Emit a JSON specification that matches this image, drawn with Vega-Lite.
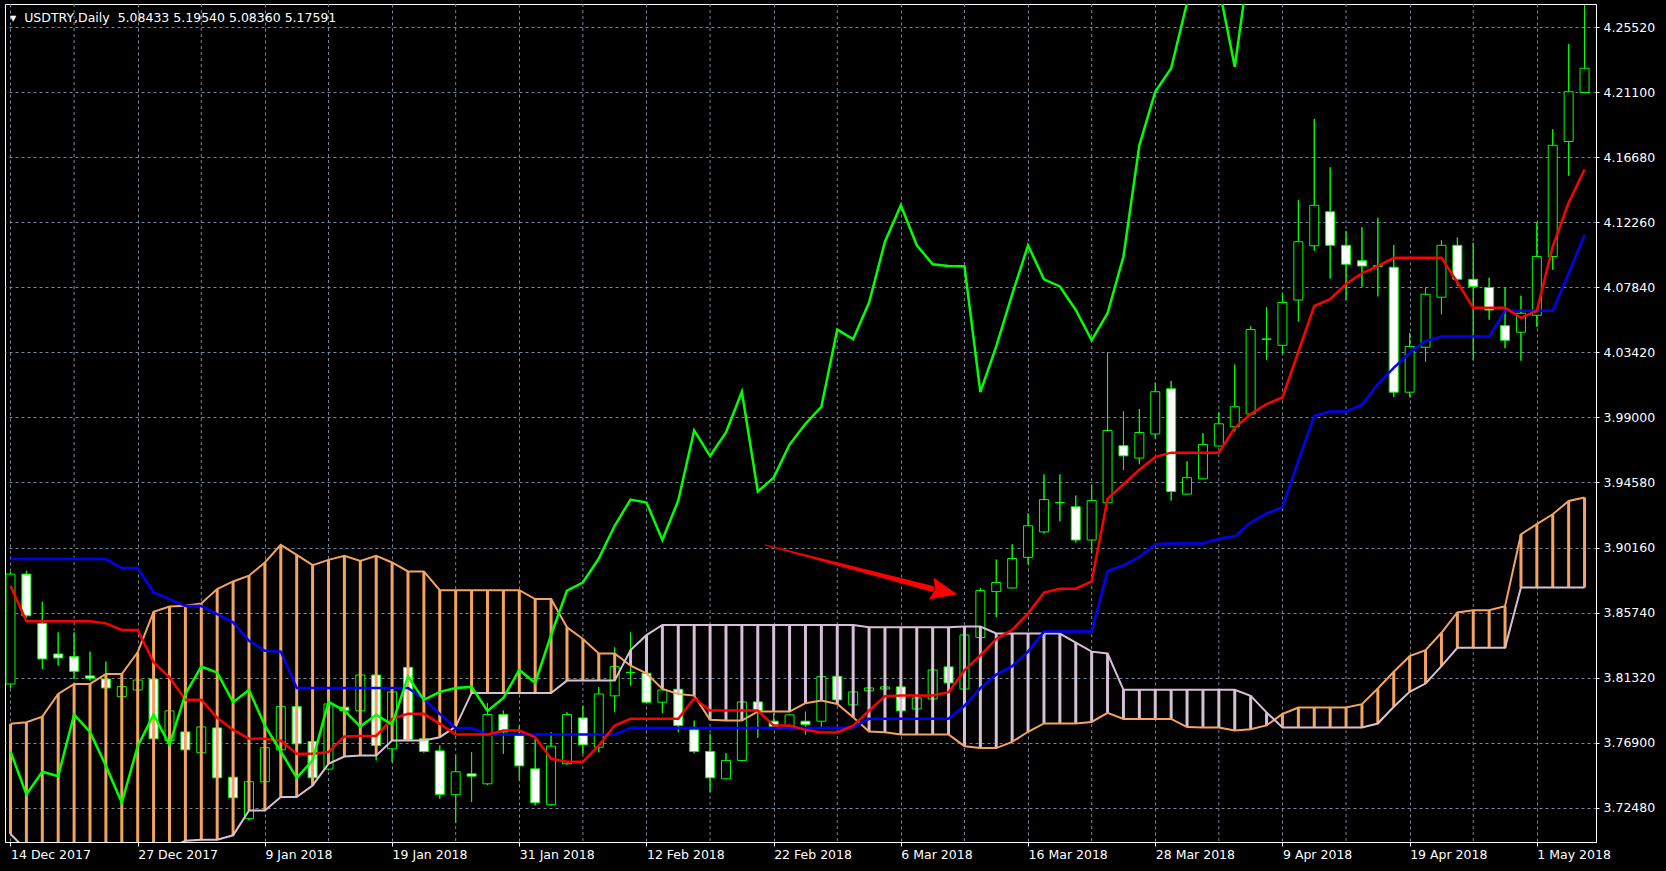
{
"$schema":"https://vega.github.io/schema/vega-lite/v6.json",
"width":1591,"height":838,
"autosize":{"type":"none"},
"padding":{"left":5,"top":4,"right":70,"bottom":29},
"background":"#000000",
"config":{"view":{"stroke":"#ffffff","strokeWidth":1,"fill":"#000000"},"font":"DejaVu Sans"},
"title":{"text":"▾\u00a0 USDTRY,Daily\u00a0 5.08433 5.19540 5.08360 5.17591","anchor":"start","frame":"group","orient":"top","offset":-16,"dy":15,"dx":5,"color":"#ffffff","font":"DejaVu Sans","fontSize":12.5,"fontWeight":"normal","baseline":"alphabetic"},
"datasets":{
"vgrid":[{"g":4},{"g":12},{"g":20},{"g":28},{"g":36},{"g":44},{"g":52},{"g":60},{"g":68},{"g":76},{"g":84},{"g":92}],
"bars":[
{"i":0,"o":3.8088,"h":3.885,"l":3.806,"c":3.8835,"t":3.8756,"k":3.8937,"ch":3.7629,"a":3.7817,"b":3.7068},
{"i":1,"o":3.8835,"h":3.8858,"l":3.854,"c":3.8552,"t":3.8514,"k":3.8937,"ch":3.7337,"a":3.7828,"b":3.6958},
{"i":2,"o":3.85,"h":3.8647,"l":3.819,"c":3.8258,"t":3.8514,"k":3.8937,"ch":3.7491,"a":3.7866,"b":3.69},
{"i":3,"o":3.8292,"h":3.8439,"l":3.8213,"c":3.8265,"t":3.8514,"k":3.8937,"ch":3.7461,"a":3.802,"b":3.69},
{"i":4,"o":3.8274,"h":3.8439,"l":3.8122,"c":3.8174,"t":3.8514,"k":3.8937,"ch":3.788,"a":3.8088,"b":3.69},
{"i":5,"o":3.8143,"h":3.8308,"l":3.8111,"c":3.8127,"t":3.8514,"k":3.8937,"ch":3.7762,"a":3.8088,"b":3.69},
{"i":6,"o":3.8122,"h":3.824,"l":3.8055,"c":3.8061,"t":3.85,"k":3.8937,"ch":3.7531,"a":3.8156,"b":3.69},
{"i":7,"o":3.8002,"h":3.8075,"l":3.799,"c":3.807,"t":3.8455,"k":3.8876,"ch":3.728,"a":3.8156,"b":3.69},
{"i":8,"o":3.8047,"h":3.8125,"l":3.804,"c":3.8115,"t":3.8455,"k":3.8876,"ch":3.7665,"a":3.8303,"b":3.69},
{"i":9,"o":3.8122,"h":3.813,"l":3.7705,"c":3.7715,"t":3.8235,"k":3.871,"ch":3.788,"a":3.8579,"b":3.69},
{"i":10,"o":3.7703,"h":3.792,"l":3.769,"c":3.7905,"t":3.8133,"k":3.8665,"ch":3.7674,"a":3.8615,"b":3.697},
{"i":11,"o":3.7762,"h":3.778,"l":3.763,"c":3.764,"t":3.798,"k":3.8618,"ch":3.802,"a":3.862,"b":3.7022},
{"i":12,"o":3.762,"h":3.781,"l":3.761,"c":3.7796,"t":3.798,"k":3.8618,"ch":3.8206,"a":3.8636,"b":3.7029},
{"i":13,"o":3.7789,"h":3.78,"l":3.744,"c":3.745,"t":3.7857,"k":3.8563,"ch":3.8165,"a":3.8733,"b":3.7029},
{"i":14,"o":3.7454,"h":3.746,"l":3.73,"c":3.7314,"t":3.7776,"k":3.8507,"ch":3.7964,"a":3.8785,"b":3.7059},
{"i":15,"o":3.7172,"h":3.743,"l":3.716,"c":3.7423,"t":3.7717,"k":3.8382,"ch":3.8047,"a":3.8824,"b":3.7228},
{"i":16,"o":3.7423,"h":3.767,"l":3.741,"c":3.7654,"t":3.7715,"k":3.8314,"ch":3.7805,"a":3.8914,"b":3.7228},
{"i":17,"o":3.764,"h":3.7945,"l":3.763,"c":3.7934,"t":3.7703,"k":3.8308,"ch":3.7629,"a":3.9034,"b":3.7319},
{"i":18,"o":3.7934,"h":3.7945,"l":3.767,"c":3.7681,"t":3.7613,"k":3.8061,"ch":3.745,"a":3.8966,"b":3.7319},
{"i":19,"o":3.7697,"h":3.7705,"l":3.744,"c":3.745,"t":3.7613,"k":3.8061,"ch":3.7568,"a":3.8896,"b":3.7398},
{"i":20,"o":3.7509,"h":3.796,"l":3.75,"c":3.7952,"t":3.7625,"k":3.8061,"ch":3.7966,"a":3.8932,"b":3.7545},
{"i":21,"o":3.793,"h":3.794,"l":3.79,"c":3.7907,"t":3.7731,"k":3.8061,"ch":3.7907,"a":3.8959,"b":3.7595},
{"i":22,"o":3.7905,"h":3.8155,"l":3.79,"c":3.8149,"t":3.7735,"k":3.8061,"ch":3.7798,"a":3.8925,"b":3.7602},
{"i":23,"o":3.8149,"h":3.8155,"l":3.7568,"c":3.767,"t":3.7735,"k":3.8061,"ch":3.7878,"a":3.8959,"b":3.7602},
{"i":24,"o":3.7647,"h":3.804,"l":3.7556,"c":3.8034,"t":3.7851,"k":3.8061,"ch":3.7812,"a":3.8914,"b":3.7703},
{"i":25,"o":3.8201,"h":3.821,"l":3.77,"c":3.7708,"t":3.7885,"k":3.8061,"ch":3.8138,"a":3.8853,"b":3.7703},
{"i":26,"o":3.7715,"h":3.772,"l":3.762,"c":3.7629,"t":3.7885,"k":3.7986,"ch":3.798,"a":3.8853,"b":3.7703},
{"i":27,"o":3.7633,"h":3.7669,"l":3.7308,"c":3.7337,"t":3.7817,"k":3.7885,"ch":3.8034,"a":3.8726,"b":3.7726},
{"i":28,"o":3.7335,"h":3.7602,"l":3.7142,"c":3.7491,"t":3.7744,"k":3.7789,"ch":3.8061,"a":3.8726,"b":3.7798},
{"i":29,"o":3.7477,"h":3.7624,"l":3.7285,"c":3.7461,"t":3.7744,"k":3.7789,"ch":3.8068,"a":3.8726,"b":3.8027},
{"i":30,"o":3.7409,"h":3.7959,"l":3.74,"c":3.788,"t":3.7744,"k":3.7744,"ch":3.7905,"a":3.8726,"b":3.8027},
{"i":31,"o":3.788,"h":3.7907,"l":3.7613,"c":3.7762,"t":3.7771,"k":3.7744,"ch":3.7993,"a":3.8726,"b":3.8027},
{"i":32,"o":3.7737,"h":3.7805,"l":3.7432,"c":3.7531,"t":3.7771,"k":3.7744,"ch":3.8183,"a":3.8726,"b":3.8027},
{"i":33,"o":3.7511,"h":3.7715,"l":3.7262,"c":3.728,"t":3.7726,"k":3.7744,"ch":3.8095,"a":3.8665,"b":3.8027},
{"i":34,"o":3.7267,"h":3.776,"l":3.726,"c":3.7665,"t":3.7579,"k":3.7744,"ch":3.8421,"a":3.8665,"b":3.8027},
{"i":35,"o":3.7545,"h":3.7896,"l":3.754,"c":3.788,"t":3.7559,"k":3.7744,"ch":3.8723,"a":3.8473,"b":3.8111},
{"i":36,"o":3.7857,"h":3.7941,"l":3.7613,"c":3.7674,"t":3.7559,"k":3.7744,"ch":3.8778,"a":3.8394,"b":3.8111},
{"i":37,"o":3.7658,"h":3.8066,"l":3.7624,"c":3.802,"t":3.7669,"k":3.7744,"ch":3.8941,"a":3.8296,"b":3.8111},
{"i":38,"o":3.8007,"h":3.8337,"l":3.7896,"c":3.8206,"t":3.7805,"k":3.7744,"ch":3.9164,"a":3.8296,"b":3.8111},
{"i":39,"o":3.8167,"h":3.8439,"l":3.8077,"c":3.8165,"t":3.7851,"k":3.7789,"ch":3.9342,"a":3.8213,"b":3.8319},
{"i":40,"o":3.8161,"h":3.817,"l":3.7955,"c":3.7964,"t":3.7851,"k":3.7789,"ch":3.9322,"a":3.816,"b":3.842},
{"i":41,"o":3.7964,"h":3.805,"l":3.7889,"c":3.8047,"t":3.7851,"k":3.7789,"ch":3.9067,"a":3.8054,"b":3.8489},
{"i":42,"o":3.8052,"h":3.8055,"l":3.776,"c":3.7805,"t":3.7851,"k":3.7789,"ch":3.9335,"a":3.802,"b":3.8489},
{"i":43,"o":3.7776,"h":3.7839,"l":3.7617,"c":3.7629,"t":3.7991,"k":3.7789,"ch":3.9812,"a":3.8009,"b":3.8489},
{"i":44,"o":3.7629,"h":3.7749,"l":3.7353,"c":3.745,"t":3.7907,"k":3.7789,"ch":3.9639,"a":3.7844,"b":3.8489},
{"i":45,"o":3.7443,"h":3.7617,"l":3.744,"c":3.7568,"t":3.7907,"k":3.7789,"ch":3.9798,"a":3.7839,"b":3.8489},
{"i":46,"o":3.7568,"h":3.797,"l":3.7565,"c":3.7966,"t":3.7907,"k":3.7789,"ch":4.0075,"a":3.7839,"b":3.8489},
{"i":47,"o":3.7966,"h":3.797,"l":3.7722,"c":3.7907,"t":3.7907,"k":3.7789,"ch":3.9397,"a":3.79,"b":3.8489},
{"i":48,"o":3.7835,"h":3.7889,"l":3.7795,"c":3.7798,"t":3.7805,"k":3.7789,"ch":3.9491,"a":3.79,"b":3.8489},
{"i":49,"o":3.7801,"h":3.788,"l":3.7798,"c":3.7878,"t":3.7805,"k":3.7789,"ch":3.9716,"a":3.79,"b":3.8489},
{"i":50,"o":3.7835,"h":3.79,"l":3.7744,"c":3.7812,"t":3.7776,"k":3.7789,"ch":3.9857,"a":3.7957,"b":3.8489},
{"i":51,"o":3.7835,"h":3.814,"l":3.7798,"c":3.8138,"t":3.7758,"k":3.7789,"ch":3.9973,"a":3.7975,"b":3.8489},
{"i":52,"o":3.814,"h":3.8143,"l":3.7975,"c":3.798,"t":3.7758,"k":3.7789,"ch":4.0498,"a":3.7952,"b":3.8489},
{"i":53,"o":3.7946,"h":3.8036,"l":3.7943,"c":3.8034,"t":3.7805,"k":3.7794,"ch":4.0432,"a":3.7862,"b":3.8489},
{"i":54,"o":3.8041,"h":3.8063,"l":3.8039,"c":3.8061,"t":3.7907,"k":3.7851,"ch":4.0682,"a":3.7765,"b":3.8473},
{"i":55,"o":3.8054,"h":3.807,"l":3.8052,"c":3.8068,"t":3.8004,"k":3.7851,"ch":4.1095,"a":3.776,"b":3.8473},
{"i":56,"o":3.8068,"h":3.807,"l":3.7903,"c":3.7905,"t":3.8009,"k":3.7851,"ch":4.1343,"a":3.7744,"b":3.8473},
{"i":57,"o":3.7918,"h":3.7995,"l":3.7916,"c":3.7993,"t":3.8009,"k":3.7851,"ch":4.1071,"a":3.7744,"b":3.8473},
{"i":58,"o":3.7986,"h":3.8185,"l":3.7984,"c":3.8183,"t":3.8009,"k":3.7851,"ch":4.0942,"a":3.7744,"b":3.8473},
{"i":59,"o":3.8204,"h":3.8206,"l":3.8093,"c":3.8095,"t":3.8032,"k":3.7851,"ch":4.093,"a":3.7744,"b":3.8473},
{"i":60,"o":3.8054,"h":3.8424,"l":3.8052,"c":3.8421,"t":3.818,"k":3.794,"ch":4.0928,"a":3.7665,"b":3.8478},
{"i":61,"o":3.8404,"h":3.8741,"l":3.84,"c":3.8723,"t":3.8283,"k":3.806,"ch":4.0072,"a":3.7652,"b":3.8478},
{"i":62,"o":3.8716,"h":3.8934,"l":3.8543,"c":3.8778,"t":3.8394,"k":3.8152,"ch":4.0383,"a":3.7652,"b":3.8431},
{"i":63,"o":3.8741,"h":3.9038,"l":3.8738,"c":3.8941,"t":3.8456,"k":3.8209,"ch":4.0738,"a":3.7694,"b":3.8431},
{"i":64,"o":3.8949,"h":3.9248,"l":3.8902,"c":3.9164,"t":3.8567,"k":3.8308,"ch":4.1071,"a":3.7763,"b":3.8431},
{"i":65,"o":3.9122,"h":3.9513,"l":3.9112,"c":3.9342,"t":3.8709,"k":3.8444,"ch":4.084,"a":3.782,"b":3.8431},
{"i":66,"o":3.932,"h":3.9513,"l":3.9194,"c":3.9322,"t":3.8736,"k":3.8444,"ch":4.0791,"a":3.782,"b":3.8431},
{"i":67,"o":3.9293,"h":3.9369,"l":3.905,"c":3.9067,"t":3.8736,"k":3.8444,"ch":4.0631,"a":3.782,"b":3.8369},
{"i":68,"o":3.9067,"h":3.9441,"l":3.8976,"c":3.9335,"t":3.8785,"k":3.8444,"ch":4.0425,"a":3.783,"b":3.8308},
{"i":69,"o":3.932,"h":4.0342,"l":3.9318,"c":3.9812,"t":3.9347,"k":3.8857,"ch":4.0609,"a":3.7892,"b":3.8295},
{"i":70,"o":3.9708,"h":3.9941,"l":3.9543,"c":3.9639,"t":3.9446,"k":3.8894,"ch":4.0995,"a":3.785,"b":3.8048},
{"i":71,"o":3.9624,"h":3.9958,"l":3.9582,"c":3.9798,"t":3.9545,"k":3.8951,"ch":4.1751,"a":3.785,"b":3.8048},
{"i":72,"o":3.9788,"h":4.0137,"l":3.9755,"c":4.0075,"t":3.9632,"k":3.9038,"ch":4.2115,"a":3.785,"b":3.8048},
{"i":73,"o":4.0095,"h":4.0149,"l":3.9335,"c":3.9397,"t":3.9661,"k":3.9043,"ch":4.2275,"a":3.785,"b":3.8048},
{"i":74,"o":3.9379,"h":3.9602,"l":3.9377,"c":3.9491,"t":3.9661,"k":3.9043,"ch":4.272,"a":3.7795,"b":3.8048},
{"i":75,"o":3.9483,"h":3.9793,"l":3.9481,"c":3.9716,"t":3.9661,"k":3.9043,"ch":4.3,"a":3.7792,"b":3.8048},
{"i":76,"o":3.9706,"h":3.9934,"l":3.9704,"c":3.9857,"t":3.9661,"k":3.9075,"ch":4.283,"a":3.7792,"b":3.8048},
{"i":77,"o":3.9837,"h":4.026,"l":3.9805,"c":3.9973,"t":3.983,"k":3.9092,"ch":4.2285,"a":3.7772,"b":3.8048},
{"i":78,"o":3.9924,"h":4.0518,"l":3.9922,"c":4.0498,"t":3.9924,"k":3.9186,"ch":4.306,"a":3.778,"b":3.8008},
{"i":79,"o":4.0434,"h":4.0651,"l":4.0292,"c":4.0432,"t":3.9991,"k":3.9248,"ch":4.34,"a":3.7806,"b":3.7895},
{"i":80,"o":4.0391,"h":4.0748,"l":4.0335,"c":4.0682,"t":4.0036,"k":3.929,"ch":4.37,"a":3.7884,"b":3.7792},
{"i":81,"o":4.0699,"h":4.1379,"l":4.0553,"c":4.1095,"t":4.0347,"k":3.9606,"ch":4.4,"a":3.7928,"b":3.7792},
{"i":82,"o":4.1068,"h":4.193,"l":4.1034,"c":4.1343,"t":4.0658,"k":3.991,"ch":4.43,"a":3.7928,"b":3.7792},
{"i":83,"o":4.1299,"h":4.1602,"l":4.0845,"c":4.1071,"t":4.0704,"k":3.9941,"ch":4.46,"a":3.7928,"b":3.7792},
{"i":84,"o":4.1071,"h":4.1168,"l":4.0699,"c":4.0942,"t":4.0808,"k":3.9941,"ch":4.5,"a":3.7928,"b":3.7792},
{"i":85,"o":4.0966,"h":4.1194,"l":4.0789,"c":4.093,"t":4.0881,"k":3.9987,"ch":4.55,"a":3.7951,"b":3.7792},
{"i":86,"o":4.0932,"h":4.1258,"l":4.0723,"c":4.0928,"t":4.093,"k":4.0128,"a":3.8057,"b":3.7819},
{"i":87,"o":4.0922,"h":4.1073,"l":4.0038,"c":4.0072,"t":4.0986,"k":4.0237,"a":3.8171,"b":3.7933},
{"i":88,"o":4.0072,"h":4.0475,"l":4.0038,"c":4.0383,"t":4.0986,"k":4.034,"a":3.8277,"b":3.8035},
{"i":89,"o":4.0378,"h":4.0784,"l":4.0279,"c":4.0738,"t":4.0986,"k":4.042,"a":3.8318,"b":3.8091},
{"i":90,"o":4.0718,"h":4.1105,"l":4.0602,"c":4.1071,"t":4.0986,"k":4.0451,"a":3.8436,"b":3.8209},
{"i":91,"o":4.1071,"h":4.1124,"l":4.0796,"c":4.084,"t":4.082,"k":4.0451,"a":3.8574,"b":3.8334},
{"i":92,"o":4.084,"h":4.1088,"l":4.0291,"c":4.0791,"t":4.0646,"k":4.0451,"a":3.859,"b":3.8334},
{"i":93,"o":4.0784,"h":4.085,"l":4.0565,"c":4.0631,"t":4.0646,"k":4.0451,"a":3.859,"b":3.8334},
{"i":94,"o":4.0524,"h":4.0784,"l":4.0371,"c":4.0425,"t":4.0646,"k":4.0626,"a":3.8617,"b":3.8334},
{"i":95,"o":4.048,"h":4.0728,"l":4.0286,"c":4.0609,"t":4.0578,"k":4.0626,"a":3.9105,"b":3.8744},
{"i":96,"o":4.0595,"h":4.1228,"l":4.0517,"c":4.0995,"t":4.0626,"k":4.0626,"a":3.9175,"b":3.8744},
{"i":97,"o":4.0995,"h":4.186,"l":4.0905,"c":4.1751,"t":4.1063,"k":4.0626,"a":3.9242,"b":3.8744},
{"i":98,"o":4.1777,"h":4.244,"l":4.1544,"c":4.2115,"t":4.136,"k":4.0881,"a":3.9332,"b":3.8744},
{"i":99,"o":4.211,"h":4.2705,"l":4.2108,"c":4.2275,"t":4.1586,"k":4.1141,"a":3.9356,"b":3.8744}
],
"arrow":[{"ax":47.47,"ap":3.9033,"end":"tail"},{"ax":57.92,"ap":3.8737,"end":"head"}],
"arrowhead":[{"ax":58.73,"ap":3.8717}]
},
"layer":[
{"data":{"name":"bars"},"mark":{"type":"rule","color":"#00ff00","strokeWidth":1,"clip":true},
 "encoding":{
  "x":{"field":"i","type":"quantitative","scale":{"domain":[-0.03125,99.40625],"nice":false,"zero":false},
   "axis":{"orient":"bottom","title":null,"values":[0,8,16,24,32,40,48,56,64,72,80,88,96],
    "grid":true,"gridColor":"#778899","gridDash":[3,3],"gridWidth":1,"gridOpacity":1,
    "domain":true,"domainColor":"#ffffff","domainWidth":1,
    "ticks":true,"tickSize":4,"tickWidth":1,"tickColor":"#ffffff",
    "labelExpr":"['14 Dec 2017','27 Dec 2017','9 Jan 2018','19 Jan 2018','31 Jan 2018','12 Feb 2018','22 Feb 2018','6 Mar 2018','16 Mar 2018','28 Mar 2018','9 Apr 2018','19 Apr 2018','1 May 2018'][round(datum.value / 8)]",
    "labelAlign":"left","labelBaseline":"top","labelPadding":2.5,"labelColor":"#ffffff","labelFont":"DejaVu Sans","labelFontSize":12.5,"labelOverlap":false,"labelFlush":false,"labelBound":false}},
  "y":{"field":"l","type":"quantitative","scale":{"domain":[3.70134,4.27118],"nice":false,"zero":false},
   "axis":{"orient":"right","title":null,"values":[3.7248,3.769,3.8132,3.8574,3.9016,3.9458,3.99,4.0342,4.0784,4.1226,4.1668,4.211,4.2552],
    "format":".5f","grid":true,"gridColor":"#778899","gridDash":[3,3],"gridWidth":1,"gridOpacity":1,
    "domain":true,"domainColor":"#ffffff","ticks":true,"tickSize":3,"tickColor":"#ffffff",
    "labelPadding":4,"labelColor":"#ffffff","labelFont":"DejaVu Sans","labelFontSize":12.5,"labelBaseline":"middle","labelOverlap":false,"labelFlush":false,"labelBound":false}},
  "y2":{"field":"h"}
 }},
{"data":{"name":"vgrid"},"mark":{"type":"rule","color":"#778899","strokeWidth":1,"strokeDash":[3,3]},
 "encoding":{
  "x":{"field":"g","type":"quantitative","scale":{"domain":[-0.03125,99.40625],"nice":false,"zero":false}}
 }},
{"data":{"name":"bars"},"mark":{"type":"rule","color":"#00ff00","strokeWidth":1,"clip":true},
 "encoding":{
  "x":{"field":"i","type":"quantitative","scale":{"domain":[-0.03125,99.40625],"nice":false,"zero":false}},
  "y":{"field":"l","type":"quantitative","scale":{"domain":[3.70134,4.27118],"nice":false,"zero":false}},
  "y2":{"field":"h"}
 }},
{"data":{"name":"bars"},"mark":{"type":"bar","size":9,"stroke":"#00ff00","strokeWidth":1,"clip":true},
 "encoding":{
  "x":{"field":"i","type":"quantitative","scale":{"domain":[-0.03125,99.40625],"nice":false,"zero":false}},
  "y":{"field":"o","type":"quantitative","scale":{"domain":[3.70134,4.27118],"nice":false,"zero":false}},
  "y2":{"field":"c"},
  "fill":{"condition":{"test":"datum.c >= datum.o","value":"#000000"},"value":"#ffffff"}
 }},
{"data":{"name":"bars"},"mark":{"type":"rule","strokeWidth":3,"clip":true},
 "encoding":{
  "x":{"field":"i","type":"quantitative","scale":{"domain":[-0.03125,99.40625],"nice":false,"zero":false}},
  "y":{"field":"a","type":"quantitative","scale":{"domain":[3.70134,4.27118],"nice":false,"zero":false}},
  "y2":{"field":"b"},
  "color":{"condition":{"test":"datum.a >= datum.b","value":"#F4A460"},"value":"#D8BFD8"}
 }},
{"data":{"name":"bars"},"mark":{"type":"line","color":"#F4A460","strokeWidth":2,"clip":true},
 "encoding":{
  "x":{"field":"i","type":"quantitative","scale":{"domain":[-0.03125,99.40625],"nice":false,"zero":false}},
  "y":{"field":"a","type":"quantitative","scale":{"domain":[3.70134,4.27118],"nice":false,"zero":false}}
 }},
{"data":{"name":"bars"},"mark":{"type":"line","color":"#D8BFD8","strokeWidth":2,"clip":true},
 "encoding":{
  "x":{"field":"i","type":"quantitative","scale":{"domain":[-0.03125,99.40625],"nice":false,"zero":false}},
  "y":{"field":"b","type":"quantitative","scale":{"domain":[3.70134,4.27118],"nice":false,"zero":false}}
 }},
{"data":{"name":"bars"},"mark":{"type":"line","color":"#0000ff","strokeWidth":2.5,"clip":true},
 "encoding":{
  "x":{"field":"i","type":"quantitative","scale":{"domain":[-0.03125,99.40625],"nice":false,"zero":false}},
  "y":{"field":"k","type":"quantitative","scale":{"domain":[3.70134,4.27118],"nice":false,"zero":false}}
 }},
{"data":{"name":"bars"},"mark":{"type":"line","color":"#ff0000","strokeWidth":2.5,"clip":true},
 "encoding":{
  "x":{"field":"i","type":"quantitative","scale":{"domain":[-0.03125,99.40625],"nice":false,"zero":false}},
  "y":{"field":"t","type":"quantitative","scale":{"domain":[3.70134,4.27118],"nice":false,"zero":false}}
 }},
{"data":{"name":"bars"},"mark":{"type":"line","color":"#00ff00","strokeWidth":2.5,"clip":true},
 "encoding":{
  "x":{"field":"i","type":"quantitative","scale":{"domain":[-0.03125,99.40625],"nice":false,"zero":false}},
  "y":{"field":"ch","type":"quantitative","scale":{"domain":[3.70134,4.27118],"nice":false,"zero":false}}
 }},
{"data":{"name":"arrow"},"mark":{"type":"trail","color":"#ff0000","clip":true},
 "encoding":{
  "x":{"field":"ax","type":"quantitative","scale":{"domain":[-0.03125,99.40625],"nice":false,"zero":false}},
  "y":{"field":"ap","type":"quantitative","scale":{"domain":[3.70134,4.27118],"nice":false,"zero":false}},
  "size":{"field":"end","type":"ordinal","scale":{"domain":["tail","head"],"range":[1,6]},"legend":null}
 }},
{"data":{"name":"arrowhead"},"mark":{"type":"point","shape":"M -1 -0.835 L 1 0 L -1 0.835 L -0.7 0 Z","size":713,"angle":12.5,"filled":true,"fill":"#ff0000","opacity":1,"strokeWidth":0,"clip":true},
 "encoding":{
  "x":{"field":"ax","type":"quantitative","scale":{"domain":[-0.03125,99.40625],"nice":false,"zero":false}},
  "y":{"field":"ap","type":"quantitative","scale":{"domain":[3.70134,4.27118],"nice":false,"zero":false}}
 }}
]
}
